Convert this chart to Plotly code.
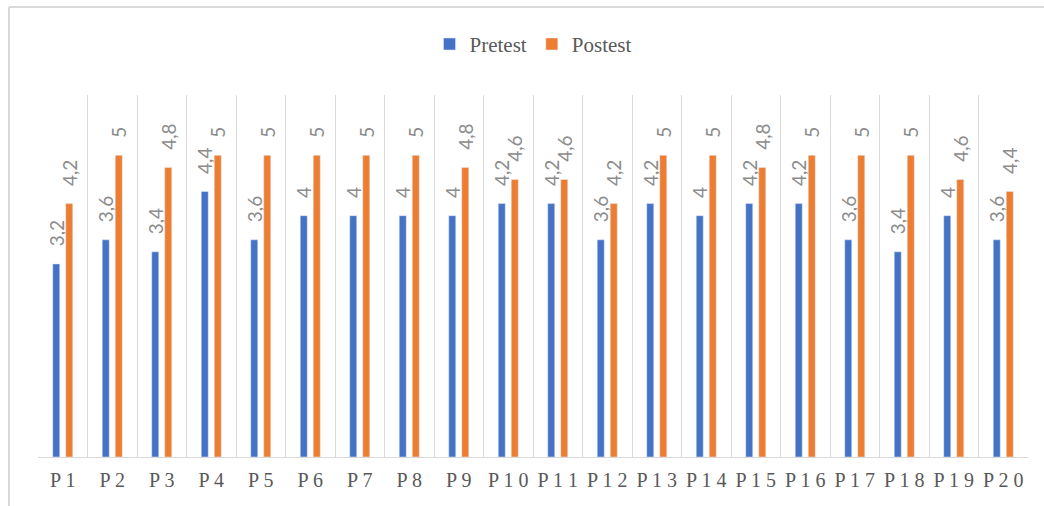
import plotly.graph_objects as go

categories = [f"P{i}" for i in range(1, 21)]
pretest = [3.2, 3.6, 3.4, 4.4, 3.6, 4, 4, 4, 4, 4.2, 4.2, 3.6, 4.2, 4, 4.2, 4.2, 3.6, 3.4, 4, 3.6]
postest = [4.2, 5, 4.8, 5, 5, 5, 5, 5, 4.8, 4.6, 4.6, 4.2, 5, 5, 4.8, 5, 5, 5, 4.6, 4.4]
tick_labels = [" ".join(c) for c in categories]

label_font = dict(family="Lato", size=19, color="#8c8c8c")

fig = go.Figure()
fig.add_trace(go.Bar(
    name="Pretest", x=categories, y=pretest, marker_color="#4472C4",
    texttemplate="\u00a0\u00a0\u00a0%{y}", textposition="outside", textangle=-90,
    textfont=label_font, cliponaxis=False, constraintext="none",
))
fig.add_trace(go.Bar(
    name="Postest", x=categories, y=postest, marker_color="#ED7D31",
    texttemplate="\u00a0\u00a0\u00a0%{y}", textposition="outside", textangle=-90,
    textfont=label_font, cliponaxis=False, constraintext="none",
))

fig.update_layout(
    width=1044, height=506,
    margin=dict(l=38, r=16, t=95, b=49, autoexpand=False),
    paper_bgcolor="white", plot_bgcolor="white",
    barmode="group", bargap=0.475, bargroupgap=0.46,
    separators=",.",
    showlegend=True,
    legend=dict(orientation="h", x=0.5, xanchor="center", y=1.14, yanchor="middle",
                bgcolor="rgba(0,0,0,0)",
                font=dict(family="Liberation Serif", size=21, color="#595959"),
                itemwidth=30, traceorder="normal"),
    font=dict(family="Liberation Serif", color="#595959"),
    shapes=[
        dict(type="line", xref="paper", yref="paper", x0=-0.0293, x1=1.02, y0=1.243, y1=1.243,
             line=dict(color="#d9d9d9", width=2)),
        dict(type="line", xref="paper", yref="paper", x0=-0.0293, x1=-0.0293, y0=1.243, y1=-0.14,
             line=dict(color="#d9d9d9", width=2)),
    ],
)
fig.update_xaxes(
    tickmode="array", tickvals=categories, ticktext=tick_labels,
    tickson="boundaries", showgrid=True, gridcolor="#d9d9d9", gridwidth=1,
    showline=True, linecolor="#d9d9d9", linewidth=1, ticks="",
    ticklabelstandoff=5,
    tickfont=dict(family="Liberation Serif", size=20, color="#595959"),
)
fig.update_yaxes(range=[0, 6], showgrid=False, showticklabels=False, zeroline=False, showline=False)

fig.write_html("out.html")
